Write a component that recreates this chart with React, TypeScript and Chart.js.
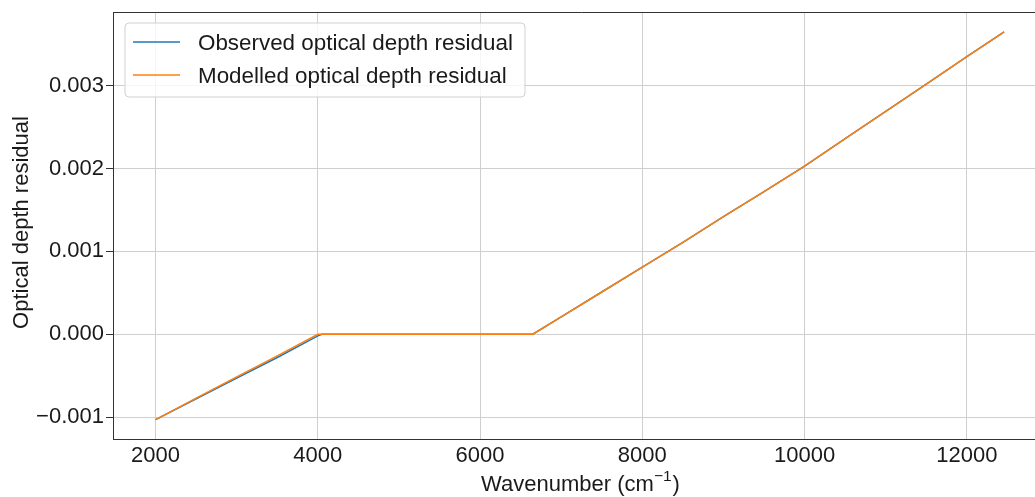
import React, { useEffect, useRef } from 'react';
import { Chart, registerables } from 'chart.js';
Chart.register(...registerables);

const seriesLabels = ['Observed optical depth residual', 'Modelled optical depth residual'];
const seriesColors = ['#1f77b4', '#ff7f0e'];

const observedX = [2000, 2500, 3000, 3500, 4000, 4050, 4500, 5000, 5500, 6000, 6500, 6650, 7000, 7500, 8000, 8500, 9000, 9500, 10000, 10500, 11000, 11500, 12000, 12460];
const observedY = [-0.00103, -0.00078, -0.00053, -0.00028, -0.00002, 0, 0, 0, 0, 0, 0, 0, 0.00021, 0.00051, 0.00081, 0.00111, 0.00142, 0.00172, 0.00203, 0.00236, 0.00269, 0.00302, 0.00335, 0.00365];

const modelledX = [2000, 2500, 3000, 3500, 4000, 4500, 5000, 5500, 6000, 6500, 6650, 7000, 7500, 8000, 8500, 9000, 9500, 10000, 10500, 11000, 11500, 12000, 12460];
const modelledY = [-0.00103, -0.00077, -0.000515, -0.00026, 0, 0, 0, 0, 0, 0, 0, 0.00021, 0.00051, 0.00081, 0.00111, 0.00142, 0.00172, 0.00203, 0.00236, 0.00269, 0.00302, 0.00335, 0.00365];

const xTicks = [2000, 4000, 6000, 8000, 10000, 12000];
const yTicks = [-0.001, 0, 0.001, 0.002, 0.003];
const xRange = [1475, 13025];
const yRange = [-0.001264, 0.003889];

const xTitleMain = 'Wavenumber (cm';
const xTitleSup = '\u22121';
const xTitleEnd = ')';
const yTitle = 'Optical depth residual';

const FONT = '"Liberation Sans", Arial, sans-serif';
const TEXT = '#1a1a1a';

const framePlugin = {
  id: 'frame',
  afterDraw(chart: any) {
    const { ctx, chartArea } = chart;
    ctx.save();
    ctx.strokeStyle = '#333333';
    ctx.lineWidth = 1;
    ctx.beginPath();
    ctx.moveTo(chartArea.left, Math.round(chartArea.top) + 0.5);
    ctx.lineTo(chartArea.right, Math.round(chartArea.top) + 0.5);
    ctx.moveTo(Math.round(chartArea.right) + 0.5, chartArea.top);
    ctx.lineTo(Math.round(chartArea.right) + 0.5, chartArea.bottom);
    ctx.stroke();

    // axis titles
    ctx.fillStyle = TEXT;
    ctx.textBaseline = 'alphabetic';
    const big = `22px ${FONT}`;
    const small = `15.5px ${FONT}`;
    ctx.font = big;
    const w1 = ctx.measureText(xTitleMain).width;
    const w3 = ctx.measureText(xTitleEnd).width;
    ctx.font = small;
    const w2 = ctx.measureText(xTitleSup).width;
    const total = w1 + w2 + w3 + 1;
    const cx = (chartArea.left + chartArea.right) / 2 - 1;
    let tx = cx - total / 2;
    const base = 491;
    ctx.textAlign = 'left';
    ctx.font = big;
    ctx.fillText(xTitleMain, tx, base);
    tx += w1;
    ctx.font = small;
    ctx.fillText(xTitleSup, tx, base - 10.5);
    tx += w2 + 1;
    ctx.font = big;
    ctx.fillText(xTitleEnd, tx, base);

    ctx.save();
    ctx.translate(28, 222.5);
    ctx.rotate(-Math.PI / 2);
    ctx.textAlign = 'center';
    ctx.font = big;
    ctx.fillText(yTitle, 0, 0);
    ctx.restore();

    // legend
    const bx = chartArea.left + 12;
    const by = chartArea.top + 11;
    const bw = 400;
    const bh = 74;
    const r = 4;
    ctx.beginPath();
    ctx.moveTo(bx + r, by);
    ctx.lineTo(bx + bw - r, by);
    ctx.arcTo(bx + bw, by, bx + bw, by + r, r);
    ctx.lineTo(bx + bw, by + bh - r);
    ctx.arcTo(bx + bw, by + bh, bx + bw - r, by + bh, r);
    ctx.lineTo(bx + r, by + bh);
    ctx.arcTo(bx, by + bh, bx, by + bh - r, r);
    ctx.lineTo(bx, by + r);
    ctx.arcTo(bx, by, bx + r, by, r);
    ctx.closePath();
    ctx.fillStyle = 'rgba(255,255,255,0.8)';
    ctx.fill();
    ctx.strokeStyle = 'rgba(204,204,204,0.9)';
    ctx.lineWidth = 1;
    ctx.stroke();

    ctx.font = `22.4px ${FONT}`;
    ctx.textBaseline = 'alphabetic';
    ctx.textAlign = 'left';
    seriesLabels.forEach((label, i) => {
      const y = by + 19 + i * 33;
      ctx.strokeStyle = seriesColors[i];
      ctx.lineWidth = 1.5;
      ctx.beginPath();
      ctx.moveTo(bx + 8, y);
      ctx.lineTo(bx + 55, y);
      ctx.stroke();
      ctx.fillStyle = TEXT;
      ctx.fillText(label, bx + 73, y + 8);
    });
    ctx.restore();
  },
};

function fmtY(v: number) {
  const s = Math.abs(v) < 1e-12 ? '0.000' : v.toFixed(3);
  return s.replace('-', '\u2212');
}

export default function App() {
  const ref = useRef<HTMLCanvasElement | null>(null);
  useEffect(() => {
    if (!ref.current) return;
    const chart = new Chart(ref.current, {
      type: 'line',
      data: {
        datasets: [
          {
            label: seriesLabels[0],
            data: observedX.map((x, i) => ({ x, y: observedY[i] })),
            borderColor: seriesColors[0],
            borderWidth: 1.5,
            pointRadius: 0,
            fill: false,
            tension: 0,
            order: 2,
          },
          {
            label: seriesLabels[1],
            data: modelledX.map((x, i) => ({ x, y: modelledY[i] })),
            borderColor: seriesColors[1],
            borderWidth: 1.5,
            pointRadius: 0,
            fill: false,
            tension: 0,
            order: 1,
          },
        ],
      },
      options: {
        animation: false,
        responsive: false,
        devicePixelRatio: 1,
        layout: { padding: { top: 12, right: 10, left: 0, bottom: 0 } },
        plugins: { legend: { display: false }, tooltip: { enabled: false } },
        scales: {
          x: {
            type: 'linear',
            min: xRange[0],
            max: xRange[1],
            afterBuildTicks: (s: any) => {
              s.ticks = xTicks.map((v) => ({ value: v }));
            },
            afterFit: (s: any) => {
              s.height = 58;
              s.paddingLeft = 0;
              s.paddingRight = 0;
            },
            ticks: {
              color: TEXT,
              font: { family: FONT, size: 22 },
              padding: 4,
              maxRotation: 0,
              autoSkip: false,
              callback: (v: any) => String(v),
            },
            grid: { color: '#cfcfcf', lineWidth: 1, drawTicks: false },
            border: { display: true, color: '#333333', width: 1 },
            title: { display: false },
          },
          y: {
            type: 'linear',
            min: yRange[0],
            max: yRange[1],
            afterBuildTicks: (s: any) => {
              s.ticks = yTicks.map((v) => ({ value: v }));
            },
            afterFit: (s: any) => {
              s.width = 113;
              s.paddingTop = 0;
              s.paddingBottom = 0;
            },
            ticks: {
              color: TEXT,
              font: { family: FONT, size: 22 },
              padding: 2,
              autoSkip: false,
              callback: (v: any) => fmtY(Number(v)),
            },
            grid: { color: '#cfcfcf', lineWidth: 1, tickColor: '#333333', tickLength: 7 },
            border: { display: true, color: '#333333', width: 1 },
            title: { display: false },
          },
        },
      },
      plugins: [framePlugin],
    } as any);
    return () => chart.destroy();
  }, []);

  return (
    <div style={{ position: 'fixed', left: 0, top: 0, width: 1035, height: 497, overflow: 'hidden', background: '#fff' }}>
      <canvas ref={ref} width={1060} height={497} style={{ width: 1060, height: 497, display: 'block' }} />
    </div>
  );
}
